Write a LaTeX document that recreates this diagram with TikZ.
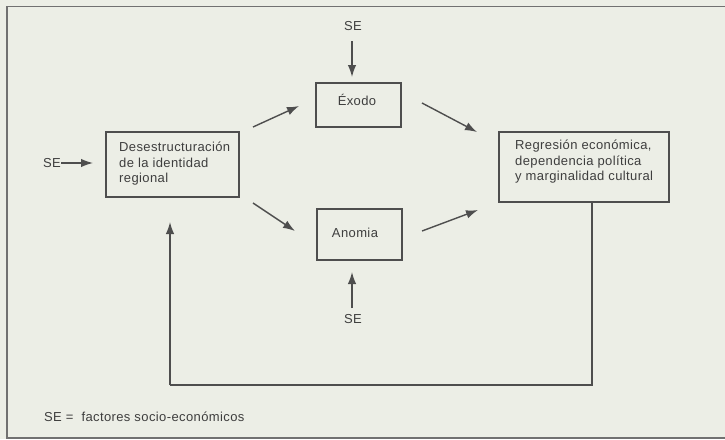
\documentclass[tikz,border=0pt]{standalone}
\usepackage{fontspec}
\setmainfont{Liberation Sans}[LetterSpace=3]
\usetikzlibrary{arrows.meta}
\definecolor{paper}{RGB}{236,238,230}
\definecolor{ink}{RGB}{78,78,78}
\definecolor{txt}{RGB}{62,62,62}
\begin{document}
\begin{tikzpicture}[x=1pt,y=-1pt,
  box/.style={draw=ink,line width=1.4pt,inner sep=0pt},
  lbl/.style={text=txt,font=\fontsize{13}{15.5}\selectfont,inner sep=0pt,align=left},
  conn/.style={draw=ink,line width=1.4pt,-{Latex[length=12pt,width=8.5pt]}},
  plain/.style={draw=ink,line width=1.4pt},
  frame/.style={draw=ink!80,line width=1.4pt}]
\useasboundingbox[fill=paper] (0,0) rectangle (725,439);
\draw[frame] (725,6.5) -- (7,6.5) -- (7,438) -- (725,438);

% boxes
\node[box,minimum width=133pt,minimum height=65pt] (des) at (172.5,164.5) {};
\node[lbl,anchor=west] (destxt) at (119,164) {Desestructuración\\de la identidad\\regional};
\node[box,minimum width=170pt,minimum height=70pt] (reg) at (584,167) {};
\node[lbl,anchor=west] (regtxt) at (515,162) {Regresión económica,\\dependencia política\\y marginalidad cultural};
\node[box,minimum width=85pt,minimum height=44pt] (exo) at (358.5,105) {};
\node[lbl] (exotxt) at (357,100) {Éxodo};
\node[box,minimum width=85pt,minimum height=51pt] (ano) at (359.5,234.5) {};
\node[lbl] (anotxt) at (355,233) {Anomia};

% SE labels
\node[lbl] (setop) at (353,26) {SE};
\node[lbl] (sebot) at (353,319) {SE};
\node[lbl] (seleft) at (52,163) {SE};
\node[lbl,anchor=west] (legend) at (44,417) {SE =\ \ factores socio-económicos};

% arrow end points
\coordinate (a1s) at (352,41);  \coordinate (a1e) at (352,77);
\coordinate (a2s) at (352,308); \coordinate (a2e) at (352,272);
\coordinate (a3s) at (61,163);  \coordinate (a3e) at (93,163);
\coordinate (d1s) at (253,127); \coordinate (d1e) at (299,106);
\coordinate (d2s) at (253,203); \coordinate (d2e) at (295,231);
\coordinate (e1s) at (422,103); \coordinate (e1e) at (477,132);
\coordinate (n1s) at (422,231); \coordinate (n1e) at (478,210);
\coordinate (l0) at (592,202);
\coordinate (l1) at (592,385);
\coordinate (l2) at (170,385);
\coordinate (l3) at (170,222);

\draw[conn] (a1s) -- (a1e);
\draw[conn] (a2s) -- (a2e);
\draw[conn] (a3s) -- (a3e);
\draw[conn] (d1s) -- (d1e);
\draw[conn] (d2s) -- (d2e);
\draw[conn] (e1s) -- (e1e);
\draw[conn] (n1s) -- (n1e);
\draw[plain] (l0) -- (l1) -- (l2);
\draw[conn] (l2) -- (l3);
\end{tikzpicture}
\end{document}
